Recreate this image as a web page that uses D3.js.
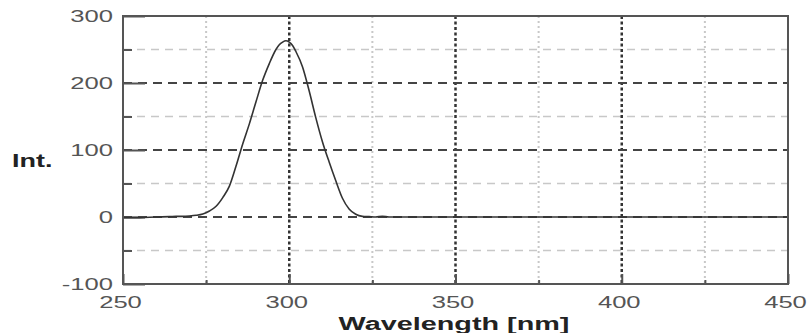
<!DOCTYPE html>
<html>
<head>
<meta charset="utf-8">
<script src="https://cdn.jsdelivr.net/npm/d3@7"></script>
<style>
body {
  margin: 0;
  background: #fff;
}
.frame {
  fill: none;
  stroke: #555;
  stroke-width: 2;
}
.axis path { display: none; }
.axis line { stroke: #555; stroke-width: 2; }
.tickLabel {
  font-family: "Liberation Sans", Arial, sans-serif;
  font-size: 16px;
  fill: #555;
}
.label {
  font-family: "Liberation Sans", Arial, sans-serif;
  font-size: 18px;
  font-weight: bold;
  fill: #222;
}
</style>
</head>
<body>
<div id="plot"></div>

<script>
// spectrum
var wavelength = [250, 255, 260, 264, 266, 268, 270, 272, 274, 276, 278, 280, 282, 284, 286, 288, 290, 292, 294, 296, 297, 298, 299, 300, 301, 302, 304, 306, 308, 310, 312, 314, 316, 318, 320, 322, 324, 326, 328, 330, 340, 360, 380, 400, 420, 440, 450];
var intensity  = [-1, -1, 0, 0.5, 1, 1, 1.5, 2.5, 4.5, 9, 16, 29, 46, 76, 109, 139, 172, 204, 229, 250, 257, 261, 263, 261, 256, 247, 224, 188, 148, 112, 82, 54, 28, 12, 4, 1, 0.5, 0, 1, 0, 0, 0, 0, 0, 0, 0, 0];

var xMajor = [250, 300, 350, 400, 450];
var xMinor = [275, 325, 375, 425];
var yMajor = [-100, 0, 100, 200, 300];
var yMinor = [-50, 50, 150, 250];

var xLabel = "Wavelength [nm]";
var yLabel = "Int.";

var W = 810, H = 333;
// plot box (window.top is taken, so prefixed names)
var pLeft = 123, pRight = 788, pTop = 16, pBottom = 284;
var stretch = 1.6; // picture text is wide

var x = d3.scaleLinear().domain([250, 450]).range([pLeft, pRight]);
var y = d3.scaleLinear().domain([-100, 300]).range([pBottom, pTop]);

var svg = d3.select('#plot')
  .append('svg')
  .attr('width', W)
  .attr('height', H);

// minor grid
svg.selectAll('.gxMinor')
  .data(xMinor)
  .enter().append('line')
  .attr('x1', function(d){ return x(d); })
  .attr('x2', function(d){ return x(d); })
  .attr('y1', pTop)
  .attr('y2', pBottom)
  .style('stroke', '#c8c8c8')
  .style('stroke-width', 2)
  .style('stroke-dasharray', '2,3');

svg.selectAll('.gyMinor')
  .data(yMinor)
  .enter().append('line')
  .attr('x1', pLeft)
  .attr('x2', pRight)
  .attr('y1', function(d){ return y(d); })
  .attr('y2', function(d){ return y(d); })
  .style('stroke', '#c8c8c8')
  .style('stroke-width', 1.5)
  .style('stroke-dasharray', '8,6');

// major grid
svg.selectAll('.gxMajor')
  .data(xMajor.slice(1, -1))
  .enter().append('line')
  .attr('x1', function(d){ return x(d); })
  .attr('x2', function(d){ return x(d); })
  .attr('y1', pTop)
  .attr('y2', pBottom)
  .style('stroke', '#333')
  .style('stroke-width', 2.5)
  .style('stroke-dasharray', '3,2.5');

svg.selectAll('.gyMajor')
  .data(yMajor.slice(1, -1))
  .enter().append('line')
  .attr('x1', pLeft)
  .attr('x2', pRight)
  .attr('y1', function(d){ return y(d); })
  .attr('y2', function(d){ return y(d); })
  .style('stroke', '#444')
  .style('stroke-width', 2)
  .style('stroke-dasharray', '9,6');

// inward ticks
var plain = function(d){ return String(d); }; // hyphen minus like the picture
var xAxisMinor = d3.axisBottom(x).tickValues(xMinor).tickSize(-4).tickFormat('');
var yAxisMinor = d3.axisLeft(y).tickValues(yMinor).tickSize(-9).tickFormat('');
var xAxis = d3.axisBottom(x).tickValues(xMajor).tickSize(-10).tickPadding(12).tickFormat(plain);
var yAxis = d3.axisLeft(y).tickValues(yMajor).tickSize(-22).tickPadding(10).tickFormat(plain);

svg.append('g').attr('class', 'axis').attr('transform', 'translate(0,' + pBottom + ')').call(xAxisMinor);
svg.append('g').attr('class', 'axis').attr('transform', 'translate(' + pLeft + ',0)').call(yAxisMinor);

var gx = svg.append('g').attr('class', 'axis').attr('transform', 'translate(0,' + pBottom + ')').call(xAxis);
var gy = svg.append('g').attr('class', 'axis').attr('transform', 'translate(' + pLeft + ',0)').call(yAxis);

gx.selectAll('text')
  .attr('class', 'tickLabel')
  .attr('fill', null)
  .attr('x', -3 / stretch)
  .attr('y', 13)
  .attr('transform', 'scale(' + stretch + ',1)');

gy.selectAll('text')
  .attr('class', 'tickLabel')
  .attr('fill', null)
  .attr('x', -10 / stretch)
  .attr('transform', 'scale(' + stretch + ',1)');

gx.attr('font-family', null).attr('font-size', null);
gy.attr('font-family', null).attr('font-size', null);

// spectrum
var line = d3.line()
  .curve(d3.curveMonotoneX)
  .x(function(d, i){ return x(wavelength[i]); })
  .y(function(d){ return y(d); });

svg.append('path')
  .datum(intensity)
  .attr('d', line)
  .style('fill', 'none')
  .style('stroke', '#333')
  .style('stroke-width', 1.6);

// frame
svg.append('rect')
  .attr('class', 'frame')
  .attr('x', pLeft)
  .attr('y', pTop)
  .attr('width', pRight - pLeft)
  .attr('height', pBottom - pTop);

// labels
svg.append('text')
  .attr('class', 'label')
  .attr('transform', 'translate(12,167) scale(1.5,1)')
  .text(yLabel);

svg.append('text')
  .attr('class', 'label')
  .attr('text-anchor', 'middle')
  .attr('transform', 'translate(454,330) scale(' + stretch + ',1)')
  .text(xLabel);
</script>
</body>
</html>
